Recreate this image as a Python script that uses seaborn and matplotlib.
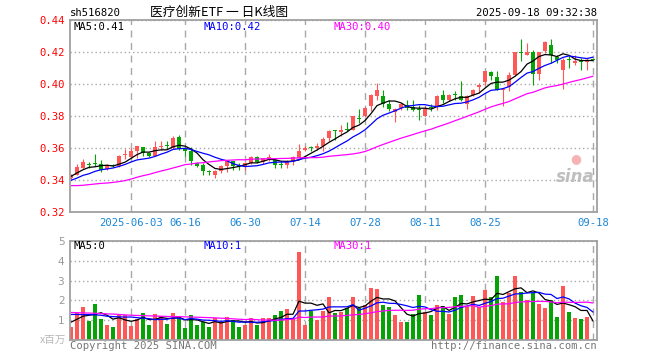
import numpy as np
import pandas as pd
import seaborn as sns
import matplotlib
matplotlib.use('Agg')
import matplotlib.pyplot as plt

# daily K data (price in yuan, volume in millions)
opens = [0.3413, 0.3433, 0.3475, 0.3497, 0.3502, 0.3500, 0.3471, 0.3492, 0.3485, 0.3556,
         0.3544, 0.3579, 0.3606, 0.3569, 0.3552, 0.3604, 0.3617, 0.3600, 0.3667, 0.3594,
         0.3579, 0.3506, 0.3496, 0.3450, 0.3433, 0.3454, 0.3485, 0.3516, 0.3487, 0.3485,
         0.3506, 0.3544, 0.3515, 0.3527, 0.3525, 0.3498, 0.3496, 0.3517, 0.3538, 0.3585,
         0.3602, 0.3600, 0.3610, 0.3663, 0.3710, 0.3698, 0.3717, 0.3715, 0.3783, 0.3798,
         0.3865, 0.3927, 0.3927, 0.3877, 0.3823, 0.3850, 0.3871, 0.3856, 0.3837, 0.3802,
         0.3852, 0.3854, 0.3933, 0.3898, 0.3931, 0.3927, 0.3877, 0.3929, 0.3979, 0.4010,
         0.4077, 0.4044, 0.3963, 0.3981, 0.4058, 0.4200, 0.4183, 0.4198, 0.4063, 0.4204,
         0.4246, 0.4167, 0.4085, 0.4152, 0.4131, 0.4146, 0.4135, 0.4152]
highs = [0.3440, 0.3500, 0.3533, 0.3513, 0.3563, 0.3527, 0.3500, 0.3498, 0.3555, 0.3596,
         0.3600, 0.3615, 0.3608, 0.3572, 0.3646, 0.3642, 0.3642, 0.3673, 0.3683, 0.3606,
         0.3606, 0.3510, 0.3506, 0.3464, 0.3464, 0.3496, 0.3527, 0.3520, 0.3506, 0.3510,
         0.3548, 0.3552, 0.3540, 0.3563, 0.3538, 0.3517, 0.3527, 0.3552, 0.3625, 0.3610,
         0.3615, 0.3631, 0.3667, 0.3715, 0.3715, 0.3746, 0.3763, 0.3802, 0.3844, 0.3854,
         0.3938, 0.4006, 0.3965, 0.3902, 0.3850, 0.3881, 0.3902, 0.3902, 0.3871, 0.3865,
         0.3877, 0.3933, 0.3965, 0.3938, 0.3954, 0.4017, 0.3933, 0.3969, 0.4006, 0.4083,
         0.4079, 0.4079, 0.3975, 0.4073, 0.4202, 0.4283, 0.4256, 0.4215, 0.4198, 0.4267,
         0.4281, 0.4183, 0.4163, 0.4177, 0.4183, 0.4163, 0.4163, 0.4155]
lows = [0.3405, 0.3430, 0.3470, 0.3475, 0.3485, 0.3448, 0.3465, 0.3480, 0.3482, 0.3531,
        0.3540, 0.3538, 0.3548, 0.3545, 0.3548, 0.3590, 0.3594, 0.3596, 0.3590, 0.3548,
        0.3496, 0.3481, 0.3433, 0.3433, 0.3412, 0.3444, 0.3448, 0.3464, 0.3464, 0.3464,
        0.3500, 0.3506, 0.3500, 0.3520, 0.3472, 0.3475, 0.3475, 0.3496, 0.3535, 0.3579,
        0.3579, 0.3590, 0.3579, 0.3642, 0.3652, 0.3673, 0.3704, 0.3710, 0.3756, 0.3795,
        0.3829, 0.3902, 0.3856, 0.3829, 0.3760, 0.3840, 0.3840, 0.3829, 0.3777, 0.3798,
        0.3829, 0.3840, 0.3881, 0.3894, 0.3902, 0.3892, 0.3846, 0.3923, 0.3944, 0.3996,
        0.4023, 0.3963, 0.3865, 0.3954, 0.4052, 0.4142, 0.4179, 0.3992, 0.4023, 0.4194,
        0.4131, 0.4131, 0.3971, 0.4100, 0.4121, 0.4090, 0.4090, 0.4148]
closes = [0.3429, 0.3479, 0.3513, 0.3494, 0.3498, 0.3465, 0.3492, 0.3488, 0.3552, 0.3560,
          0.3583, 0.3610, 0.3569, 0.3548, 0.3606, 0.3608, 0.3613, 0.3663, 0.3596, 0.3579,
          0.3516, 0.3489, 0.3454, 0.3448, 0.3454, 0.3485, 0.3516, 0.3485, 0.3485, 0.3506,
          0.3544, 0.3515, 0.3535, 0.3545, 0.3496, 0.3496, 0.3510, 0.3542, 0.3583, 0.3600,
          0.3600, 0.3613, 0.3656, 0.3708, 0.3706, 0.3715, 0.3715, 0.3798, 0.3781, 0.3848,
          0.3933, 0.3965, 0.3877, 0.3846, 0.3846, 0.3877, 0.3850, 0.3835, 0.3835, 0.3846,
          0.3850, 0.3927, 0.3898, 0.3933, 0.3929, 0.3898, 0.3927, 0.3965, 0.3996, 0.4083,
          0.4048, 0.3965, 0.3967, 0.4058, 0.4202, 0.4196, 0.4198, 0.4065, 0.4198, 0.4263,
          0.4183, 0.4148, 0.4152, 0.4150, 0.4146, 0.4135, 0.4152, 0.4150]
volumes = [0.67, 1.38, 1.66, 0.96, 1.82, 1.06, 0.76, 0.66, 1.33, 1.26,
           0.72, 1.06, 1.36, 0.76, 1.31, 1.21, 0.81, 1.36, 1.09, 0.61,
           1.26, 0.76, 0.89, 0.66, 1.09, 0.89, 1.14, 1.03, 0.66, 0.76,
           1.09, 0.76, 1.11, 1.11, 1.26, 1.46, 1.56, 1.11, 4.42, 0.76,
           1.46, 1.01, 1.46, 2.17, 1.35, 1.43, 1.60, 2.17, 1.63, 1.77,
           2.62, 2.57, 1.77, 1.65, 1.26, 0.91, 0.91, 1.31, 2.27, 1.43,
           1.26, 1.77, 1.71, 1.31, 2.17, 2.27, 1.65, 2.22, 1.65, 2.52,
           2.17, 3.23, 1.92, 2.37, 3.23, 2.42, 2.02, 2.37, 1.82, 1.61,
           2.02, 1.16, 2.72, 1.41, 1.11, 1.06, 1.16, 0.05]

# moving-average values at the left edge (they depend on days before the window)
ma5_head = [0.3423, 0.3444, 0.3464, 0.3479]
ma10_head = [0.3398, 0.3412, 0.3429, 0.3439, 0.3454, 0.3464, 0.3469, 0.3475, 0.3485]
ma30_head = [0.3365, 0.3365, 0.3367, 0.3371, 0.3375, 0.3379, 0.3381, 0.3385, 0.3390, 0.3396,
             0.3406, 0.3417, 0.3427, 0.3435, 0.3446, 0.3456, 0.3465, 0.3475, 0.3485, 0.3496,
             0.3500, 0.3506, 0.3508, 0.3513, 0.3517, 0.3521, 0.3523, 0.3525, 0.3527]
vma5_head = [0.90, 1.05, 1.20, 1.25]
vma10_head = [1.29, 1.29, 1.28, 1.28, 1.27, 1.25, 1.20, 1.18, 1.17]
vma30_head = [1.39, 1.38, 1.37, 1.36, 1.35, 1.33, 1.32, 1.31, 1.29, 1.27,
              1.25, 1.24, 1.23, 1.22, 1.21, 1.20, 1.19, 1.18, 1.18, 1.17,
              1.16, 1.15, 1.14, 1.13, 1.12, 1.10, 1.09, 1.07, 1.05]

tick_dates = ['2025-06-03', '2025-06-16', '2025-06-30', '2025-07-14',
              '2025-07-28', '2025-08-11', '2025-08-25', '2025-09-18']
tick_labels = ['2025-06-03', '06-16', '06-30', '07-14', '07-28', '08-11', '08-25', '09-18']

# trading days (Dragon Boat holiday on 06-02)
dates = pd.bdate_range('2025-05-19', '2025-09-18')
dates = dates[dates != pd.Timestamp('2025-06-02')]

df = pd.DataFrame({'date': dates, 'open': opens, 'high': highs, 'low': lows,
                   'close': closes, 'vol': volumes})
df['x'] = np.arange(len(df))


def moving(s, n, head):
    m = s.rolling(n).mean().to_numpy()
    m[:len(head)] = head
    return m


df['ma5'] = moving(df['close'], 5, ma5_head)
df['ma10'] = moving(df['close'], 10, ma10_head)
df['ma30'] = moving(df['close'], 30, ma30_head)
df['vma5'] = moving(df['vol'], 5, vma5_head)
df['vma10'] = moving(df['vol'], 10, vma10_head)
df['vma30'] = moving(df['vol'], 30, vma30_head)

UP, DOWN = '#ff5656', '#06a306'
df['color'] = np.where(df['close'] >= df['open'], UP, DOWN)
tick_pos = [dates.get_loc(pd.Timestamp(d)) for d in tick_dates]

sns.set_theme(style='white')
plt.rcParams['font.family'] = ['DejaVu Sans Mono', 'Noto Sans CJK SC']

fig = plt.figure(figsize=(6.6, 3.6), dpi=100)
W, H = 660, 360
ax = fig.add_axes([70 / W, 1 - 212 / H, 527 / W, 192 / H])
axv = fig.add_axes([70 / W, 1 - 340 / H, 527 / W, 99 / H])

xmin, xmax = -1 / 6, 526 / 6
grid_c = '#a8a8a8'

# candles
body = (df['close'] - df['open']).abs().clip(lower=0.0006)
bottom = df[['open', 'close']].min(axis=1)
ax.vlines(df['x'], df['low'], df['high'], colors=df['color'], lw=0.8, zorder=3)
ax.bar(df['x'], body, bottom=bottom, width=0.68, color=df['color'], linewidth=0, zorder=4)
sns.lineplot(x=df['x'], y=df['ma5'], color='black', lw=0.9, ax=ax, zorder=5)
sns.lineplot(x=df['x'], y=df['ma10'], color='#0000ff', lw=0.9, ax=ax, zorder=5)
sns.lineplot(x=df['x'], y=df['ma30'], color='#ff00ff', lw=0.9, ax=ax, zorder=5)

# volume
axv.bar(df['x'], df['vol'], width=0.82, color=df['color'], linewidth=0, zorder=3)
sns.lineplot(x=df['x'], y=df['vma5'], color='black', lw=0.9, ax=axv, zorder=5)
sns.lineplot(x=df['x'], y=df['vma10'], color='#0000ff', lw=0.9, ax=axv, zorder=5)
sns.lineplot(x=df['x'], y=df['vma30'], color='#ff00ff', lw=0.9, ax=axv, zorder=5)

for a in (ax, axv):
    a.set_xlim(xmin, xmax)
    a.set_xlabel('')
    a.set_ylabel('')
    a.set_xticks(tick_pos)
    a.xaxis.grid(True, color=grid_c, ls=(0, (5, 4)), lw=1.0)
    a.yaxis.grid(True, color=grid_c, ls=(0, (1, 2)), lw=1.0)
    a.set_axisbelow(True)
    for s in a.spines.values():
        s.set_color('#a0a0a0')
        s.set_linewidth(1.3)
        s.set_zorder(6)

ax.set_ylim(0.32, 0.44)
ax.set_yticks(np.arange(0.32, 0.4401, 0.02))
ax.set_yticklabels(['%.2f' % v for v in np.arange(0.32, 0.4401, 0.02)])
ax.set_xticklabels(tick_labels)
ax.tick_params(axis='y', length=0, pad=4, labelsize=7.6, labelcolor='#ff0000')
ax.tick_params(axis='x', length=0, pad=4, labelsize=7.6, labelcolor='#1a86d6')

axv.set_ylim(0, 5)
axv.set_yticks([1, 2, 3, 4, 5])
axv.set_yticklabels(['1', '2', '3', '4', '5'], family='DejaVu Sans')
axv.set_xticklabels([])
axv.tick_params(axis='y', length=0, pad=4, labelsize=7.6, labelcolor='#999999')
axv.tick_params(axis='x', length=0)

# texts
def ftext(px, py, s, **kw):
    fig.text(px / W, 1 - py / H, s, va='center', **kw)


last = df.iloc[-1]
ftext(70, 13, 'sh516820', fontsize=7.6, color='black')
ftext(150, 12, '医疗创新ETF 一 日K线图', fontsize=9.2, color='black',
      family=['Noto Sans CJK SC', 'DejaVu Sans'])
ftext(597, 13, '2025-09-18 09:32:38', fontsize=7.6, color='black', ha='right')
ftext(74, 27, 'MA5:%.2f' % last['ma5'], fontsize=7.6, color='black')
ftext(203, 27, 'MA10:%.2f' % last['ma10'], fontsize=7.6, color='#0000ff')
ftext(334, 27, 'MA30:%.2f' % last['ma30'], fontsize=7.6, color='#ff00ff')
ftext(74, 246, 'MA5:%d' % int(last['vma5']), fontsize=7.6, color='black')
ftext(203, 246, 'MA10:%d' % int(last['vma10']), fontsize=7.6, color='#0000ff')
ftext(334, 246, 'MA30:%d' % int(last['vma30']), fontsize=7.6, color='#ff00ff')
ftext(66, 340, 'x百万', fontsize=7.6, color='#b8b8b8', ha='right',
      family=['Noto Sans CJK SC', 'DejaVu Sans'])
ftext(70, 346, 'Copyright 2025 SINA.COM', fontsize=7.6, color='#777777')
ftext(597, 346, 'http://finance.sina.com.cn', fontsize=7.6, color='#777777', ha='right')

# sina watermark
fig.text(576 / W, 1 - 159 / H, '●', fontsize=9, color='#f4a0a0', ha='center', va='center',
         family='DejaVu Sans', alpha=0.8)
ftext(595, 177, 'sina', fontsize=12, color='#b8b8b8', ha='right', style='italic',
      weight='bold', family='DejaVu Sans', alpha=0.9)

fig.savefig('out.png', dpi=100)
